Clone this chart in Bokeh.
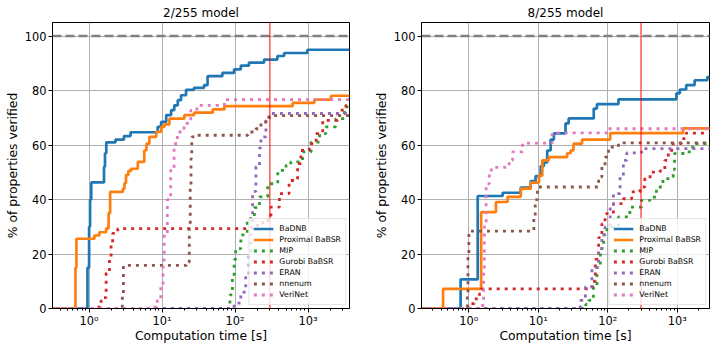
from bokeh.plotting import figure
from bokeh.layouts import row
from bokeh.models import FixedTicker, Span
from bokeh.embed import file_html
from bokeh.resources import INLINE

methods = ["BaDNB", "Proximal BaBSR", "MIP", "Gurobi BaBSR", "ERAN", "nnenum", "VeriNet"]
colors = ["#1f77b4", "#ff7f0e", "#2ca02c", "#d62728", "#9467bd", "#8c564b", "#e377c2"]
titles = ["2/255 model", "8/255 model"]
y_ticks = [0, 20, 40, 60, 80, 100]
x_ticks = [1, 10, 100, 1000]
x_tick_labels = ["10\u2070", "10\u00b9", "10\u00b2", "10\u00b3"]
timeout_line = 300
full_line = 100

# ---------- 2/255 model: (time [s], % verified) ----------
badnb_2_t = [0.3, 0.95, 1.0, 1.03, 1.07, 1.6, 1.65, 1.72, 2.3, 3.0, 3.7, 8.7, 9.7, 11.4, 13.3, 14.7,
             16.4, 18.2, 21.3, 27.4, 37.6, 42, 67, 97, 120, 155, 250, 380, 470, 980, 3700]
badnb_2_v = [0, 15, 30, 40, 46.3, 52, 57, 61, 62, 63.3, 64.7, 66.7, 68.5, 71, 72.8, 74.6,
             76.5, 78.3, 80.3, 81, 82, 85.3, 86.5, 87.8, 89.2, 90.3, 91.4, 92.7, 93.8, 95, 95]
prox_2_t = [0.3, 0.65, 0.67, 1.18, 1.38, 1.71, 1.85, 1.94, 2.9, 3.05, 3.2, 3.45, 3.76, 4.65, 5.7,
            6.1, 6.7, 8.3, 9.7, 10.8, 12.6, 20.2, 27.4, 49.5, 71.4, 617, 1220, 2070, 3700]
prox_2_v = [0, 15, 25.6, 26.8, 28, 29.4, 35, 42.8, 44, 46, 49, 50.5, 51.3, 53.8, 58,
            60.5, 63, 64.8, 66.7, 67.6, 69.7, 71, 71.9, 73.1, 74.3, 75.5, 76.7, 78.1, 78.1]
mip_2_t = [0.3, 78, 85, 92, 97, 102, 120, 147, 184, 216, 280, 385, 500, 580, 840, 1100, 1440,
           1760, 2400, 3150, 3700]
mip_2_v = [0, 0, 5, 12, 18, 22, 27, 33, 37, 41, 45.8, 50.7, 52.6, 53.8, 57.5, 61.1, 64.2,
           66.7, 69.7, 74, 74]
gurobi_2_t = [0.3, 1.25, 1.46, 1.71, 1.9, 2.0, 2.1, 2.47, 200, 240, 310, 405, 550, 720, 800,
              1040, 1290, 1590, 2550, 3300, 3700]
gurobi_2_v = [0, 0.5, 4, 13, 19, 24, 27.6, 29.3, 30.5, 32.4, 37.2, 42.2, 47, 53.2, 58,
              60.5, 64.2, 69.1, 72.8, 74.6, 74.6]
eran_2_t = [0.3, 78, 97, 120, 140, 155, 165, 174, 193, 216, 226, 265, 295, 3700]
eran_2_v = [0, 0, 2, 6, 12, 20, 30, 43, 52, 59, 63, 69, 71.6, 71.6]
nnenum_2_t = [0.3, 2.85, 2.95, 21.5, 23.6, 24.3, 24.9, 25.5, 29, 150, 193, 226, 265, 310, 3700]
nnenum_2_v = [0, 5, 15.8, 17, 30, 45, 55, 63, 63.6, 64.8, 66, 68.5, 70.3, 70.8, 70.8]
verinet_2_t = [0.3, 7, 8.6, 9.6, 10.3, 10.7, 11.8, 13.1, 14.6, 16.2, 20, 24.7, 30, 71.4, 3700]
verinet_2_v = [0, 0.5, 3, 8, 17.7, 27.5, 40, 50.7, 60.5, 64.8, 68, 72.7, 74.6, 76.7, 76.7]

# ---------- 8/255 model ----------
badnb_8_t = [0.2, 0.76, 1.34, 3.06, 5.58, 7.76, 9.1, 10.8, 12, 13.4, 15, 16.7, 24.6, 27.3,
             62.6, 69.6, 142, 970, 1085, 1340, 1770, 2700, 3700]
badnb_8_v = [0, 10.7, 41.3, 42.5, 44.4, 46.8, 48.6, 52.3, 53.6, 58, 62, 64.3, 68, 69.8,
             73.4, 75, 76.8, 79, 80.4, 82, 83.8, 85, 85.5]
prox_8_t = [0.2, 0.425, 1.5, 2.45, 3.6, 5.58, 7.76, 10.2, 11.4, 14.1, 25.9, 29, 32, 42.5,
            108, 1210, 3700]
prox_8_v = [0, 7.2, 35.4, 39.1, 41, 44, 46.2, 48.8, 54.4, 55.6, 57, 58, 60.5, 62, 64.4,
            66.1, 66.1]
mip_8_t = [0.2, 42.5, 48, 53, 62, 69.6, 78, 87, 97, 142, 207, 305, 405, 500, 620, 780, 870,
           910, 1340, 1660, 3700]
mip_8_v = [0, 0, 1.5, 3, 8, 15, 22, 27, 29.9, 33.6, 37.2, 39.7, 40.9, 44.6, 47.7, 48.3, 51,
           56.9, 57.5, 60.5, 60.5]
gurobi_8_t = [0.2, 0.97, 1.2, 1.42, 1.5, 53, 59, 66, 73.6, 82, 91, 120, 167, 220, 290, 340,
              405, 560, 660, 740, 870, 1140, 1340, 3700]
gurobi_8_v = [0, 1.8, 3.5, 5.4, 7.2, 7.2, 10, 18, 26, 31.1, 34.8, 38.5, 40.3, 42.8, 44.6,
              47.7, 50.1, 50.5, 54.4, 58.1, 60.5, 62.4, 64.4, 64.4]
eran_8_t = [0.2, 34, 40, 47.5, 59, 73.6, 82, 91, 108, 120, 150, 167, 187, 305, 3700]
eran_8_v = [0, 0, 3, 8, 15, 22, 27, 30, 37.2, 42.2, 48.3, 54.4, 57.1, 58.7, 58.7]
nnenum_8_t = [0.2, 0.95, 0.97, 1.0, 8.6, 9.0, 9.7, 66, 73.5, 82, 91, 102, 142, 3700]
nnenum_8_v = [0, 5, 20, 28.4, 33, 40, 44.6, 44.6, 48.3, 52, 55.6, 59.3, 60.8, 60.8]
verinet_8_t = [0.2, 1.58, 1.63, 1.67, 1.77, 1.97, 2.1, 3.4, 3.8, 4.25, 5.9, 15.8, 102, 3700]
verinet_8_v = [0, 2, 15, 30, 45.8, 50.1, 51.8, 51.8, 54.4, 57.5, 60.7, 64.5, 66, 66]

series_2 = [(badnb_2_t, badnb_2_v), (prox_2_t, prox_2_v), (mip_2_t, mip_2_v),
            (gurobi_2_t, gurobi_2_v), (eran_2_t, eran_2_v), (nnenum_2_t, nnenum_2_v),
            (verinet_2_t, verinet_2_v)]
series_8 = [(badnb_8_t, badnb_8_v), (prox_8_t, prox_8_v), (mip_8_t, mip_8_v),
            (gurobi_8_t, gurobi_8_v), (eran_8_t, eran_8_v), (nnenum_8_t, nnenum_8_v),
            (verinet_8_t, verinet_8_v)]

FONT = "DejaVu Sans"


def minor_ticks(lo, hi):
    out = []
    for dec in [0.1, 1, 10, 100, 1000]:
        for k in range(2, 10):
            v = dec * k
            if lo <= v <= hi:
                out.append(v)
    return out


def make_fig(title, series, x_lo, x_hi, width, border_left, border_right):
    p = figure(width=width, height=347, x_axis_type="log", x_range=(x_lo, x_hi),
               y_range=(0, 105), output_backend="svg", toolbar_location=None,
               min_border_left=border_left, min_border_right=border_right,
               min_border_top=22, min_border_bottom=39, title=title)
    p.title.align = "center"
    p.title.text_font = FONT
    p.title.text_font_size = "12px"
    p.title.text_font_style = "normal"
    p.title.text_color = "black"
    p.title.standoff = 6
    p.title.offset = 0
    p.outline_line_color = "black"
    p.outline_line_width = 1
    p.outline_line_alpha = 1
    p.background_fill_color = "white"
    p.border_fill_color = "white"

    xt = FixedTicker(ticks=x_ticks, minor_ticks=minor_ticks(x_lo, x_hi))
    p.xaxis.ticker = xt
    p.xaxis.major_label_overrides = {t: l for t, l in zip(x_ticks, x_tick_labels)}
    p.yaxis.ticker = FixedTicker(ticks=y_ticks)
    p.xgrid.ticker = FixedTicker(ticks=x_ticks)
    p.ygrid.ticker = FixedTicker(ticks=y_ticks)
    for g in (p.xgrid, p.ygrid):
        g.grid_line_color = "#b0b0b0"
        g.grid_line_width = 1
    p.xaxis.axis_label = "Computation time [s]"
    p.yaxis.axis_label = "% of properties verified"
    for ax in (p.xaxis, p.yaxis):
        ax.axis_label_text_font = FONT
        ax.axis_label_text_font_size = "12.4px"
        ax.axis_label_text_font_style = "normal"
        ax.axis_label_text_color = "black"
        ax.major_label_text_font = FONT
        ax.major_label_text_font_size = "11.4px"
        ax.major_label_text_color = "black"
        ax.axis_line_color = "black"
        ax.major_tick_line_color = "black"
        ax.minor_tick_line_color = "black"
        ax.major_tick_out = 4
        ax.major_tick_in = 0
        ax.minor_tick_out = 2
        ax.minor_tick_in = 0
        ax.major_label_standoff = 2
        ax.axis_label_standoff = 2
    p.xaxis.major_label_standoff = 1
    p.xaxis.axis_label_standoff = -3

    for i, (name, col, (t, v)) in enumerate(zip(methods, colors, series)):
        if i < 2:
            p.step(x=t, y=v, mode="after", line_color=col, line_width=2.7, legend_label=name)
        else:
            p.step(x=t, y=v, mode="after", line_color=col, line_width=2.8,
                   line_dash="3 5", legend_label=name)

    p.add_layout(Span(location=full_line, dimension="width", line_color="#808080",
                      line_width=2.5, line_dash="9 4"))
    p.add_layout(Span(location=timeout_line, dimension="height", line_color="red",
                      line_width=1))

    lg = p.legend[0]
    lg.location = "bottom_right"
    lg.margin = 3
    lg.padding = 4
    lg.spacing = 0
    lg.glyph_width = 20
    lg.glyph_height = 11
    lg.label_height = 11
    lg.label_standoff = 6
    lg.label_text_font = FONT
    lg.label_text_font_size = "7.8px"
    lg.label_text_color = "black"
    lg.border_line_color = "#cccccc"
    lg.background_fill_alpha = 0.8
    return p


p1 = make_fig(titles[0], series_2, 0.315, 3700, 370, 52, 21)
p2 = make_fig(titles[1], series_8, 0.208, 2900, 340, 50, 1)

layout = row(p1, p2)
open("out.html", "w").write(file_html(layout, INLINE))
